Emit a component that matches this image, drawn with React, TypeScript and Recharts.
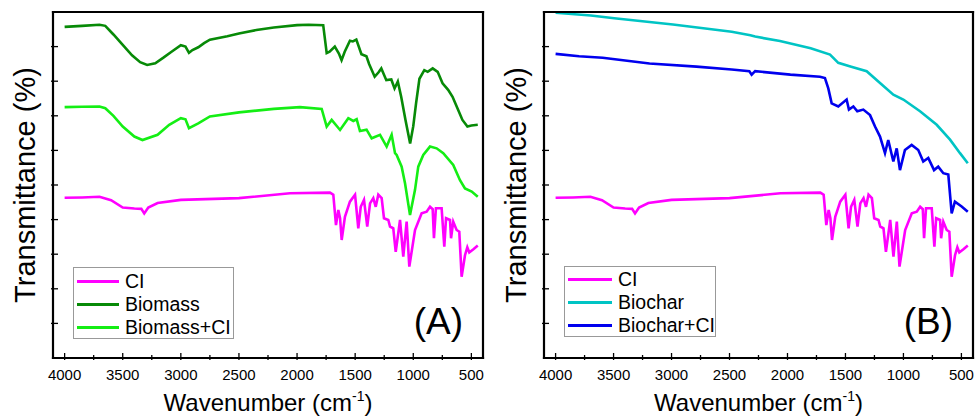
import { Line, LineChart, XAxis, YAxis } from "recharts";

// wavenumber (cm-1), transmittance (offset, arbitrary units 0-10)
const ci: [number, number][] = [
  [4000, 4.63], [3850, 4.64], [3700, 4.66], [3600, 4.56], [3500, 4.35], [3400, 4.32], [3340, 4.31], [3315, 4.18],
  [3280, 4.35], [3200, 4.48], [3000, 4.57], [2500, 4.62], [2061, 4.76], [1717, 4.78], [1688, 4.72], [1665, 3.84],
  [1645, 4.28], [1630, 4.04], [1616, 3.41], [1588, 4.08], [1545, 4.52], [1501, 4.72], [1473, 3.75], [1452, 4.37],
  [1424, 4.57], [1396, 3.8], [1372, 4.47], [1344, 4.62], [1323, 4.37], [1301, 4.72], [1272, 4.62], [1252, 4.04],
  [1215, 3.99], [1200, 3.8], [1172, 3.75], [1151, 3.07], [1129, 3.61], [1114, 3.99], [1086, 2.93], [1057, 3.94],
  [1034, 2.64], [985, 3.7], [928, 4.18], [885, 4.23], [856, 4.37], [833, 4.3], [822, 3.46], [805, 4.33],
  [756, 4.33], [733, 3.22], [718, 4.04], [684, 3.99], [675, 3.46], [656, 3.94], [627, 3.7], [604, 3.65],
  [584, 2.35], [555, 2.97], [535, 3.2], [518, 3.05], [480, 3.15], [445, 3.25],
];

const biomass: [number, number][] = [
  [4000, 9.57], [3850, 9.6], [3700, 9.63], [3650, 9.6], [3580, 9.35], [3500, 9.05], [3420, 8.75], [3350, 8.55],
  [3290, 8.47], [3220, 8.52], [3150, 8.68], [3080, 8.85], [3000, 9.04], [2960, 9.0], [2930, 8.82], [2900, 8.9],
  [2850, 8.98], [2800, 9.1], [2750, 9.2], [2600, 9.3], [2500, 9.38], [2350, 9.48], [2200, 9.55], [2000, 9.62],
  [1900, 9.63], [1775, 9.62], [1745, 8.81], [1720, 8.85], [1675, 9.0], [1640, 8.8], [1617, 8.61], [1590, 8.85],
  [1545, 9.17], [1520, 9.15], [1490, 9.2], [1446, 8.78], [1403, 8.72], [1380, 8.5], [1332, 8.13], [1300, 8.25],
  [1275, 8.37], [1232, 8.03], [1189, 8.05], [1161, 7.79], [1133, 7.99], [1104, 7.55], [1067, 6.88], [1027, 6.2],
  [1000, 6.7], [976, 7.36], [947, 8.07], [905, 8.32], [876, 8.27], [833, 8.37], [790, 8.27], [748, 7.94],
  [700, 7.75], [662, 7.55], [619, 7.21], [577, 6.88], [534, 6.69], [500, 6.72], [445, 6.74],
];

const biomassCi: [number, number][] = [
  [4000, 7.25], [3850, 7.26], [3700, 7.27], [3650, 7.22], [3580, 7.0], [3500, 6.69], [3400, 6.4], [3330, 6.3],
  [3200, 6.45], [3100, 6.74], [3000, 6.93], [2960, 6.9], [2930, 6.64], [2850, 6.78], [2750, 6.98], [2500, 7.1],
  [2200, 7.2], [1975, 7.25], [1788, 7.2], [1745, 6.69], [1702, 6.88], [1630, 6.59], [1559, 6.93], [1516, 6.85],
  [1487, 6.9], [1459, 6.56], [1402, 6.6], [1358, 6.35], [1286, 6.45], [1229, 6.11], [1186, 6.45], [1157, 5.92],
  [1143, 5.87], [1100, 5.53], [1071, 5.05], [1028, 4.13], [985, 4.86], [957, 5.53], [914, 5.87], [856, 6.11],
  [799, 6.06], [742, 5.92], [656, 5.58], [598, 5.14], [555, 4.9], [497, 4.81], [445, 4.66],
];

const biochar: [number, number][] = [
  [4000, 9.98], [3696, 9.9], [3494, 9.82], [2988, 9.64], [2481, 9.43], [2320, 9.33], [2279, 9.29], [2065, 9.16],
  [1800, 8.95], [1633, 8.77], [1562, 8.53], [1450, 8.42], [1317, 8.29], [1202, 7.95], [1087, 7.61], [1001, 7.47],
  [857, 7.13], [713, 6.74], [598, 6.31], [512, 5.92], [445, 5.63],
];

const biocharCi: [number, number][] = [
  [4000, 8.79], [3797, 8.72], [3594, 8.68], [3190, 8.51], [2785, 8.42], [2481, 8.34], [2329, 8.29], [2309, 8.19],
  [2279, 8.29], [1975, 8.19], [1720, 8.13], [1677, 8.09], [1648, 7.79], [1619, 7.36], [1562, 7.27], [1490, 7.47],
  [1470, 7.18], [1432, 7.27], [1398, 7.13], [1346, 7.18], [1288, 7.02], [1245, 6.69], [1202, 6.4], [1159, 5.92],
  [1131, 6.3], [1087, 5.68], [1058, 6.06], [1030, 5.43], [987, 6.01], [929, 6.16], [872, 6.01], [829, 5.68],
  [786, 5.78], [736, 5.43], [700, 5.53], [656, 5.34], [613, 5.3], [584, 4.18], [556, 4.52], [498, 4.38], [445, 4.23],
];

const xTicks = [4000, 3750, 3500, 3250, 3000, 2750, 2500, 2250, 2000, 1750, 1500, 1250, 1000, 750, 500];
const yTicks = [1, 2, 3, 4, 5, 6, 7, 8, 9];

const toRows = (d: [number, number][]) => d.map(([x, y]) => ({ x, y }));

const font = '"Liberation Sans", Arial, sans-serif';

const BottomTick = ({ x, y, payload }: any) => {
  const major = payload.value % 500 === 0;
  return (
    <g>
      <line x1={x} x2={x} y1={y} y2={y - (major ? 7 : 5)} stroke="#000" strokeWidth={1.3} />
      {major && (
        <text x={x} y={y + 20} textAnchor="middle" fontSize={15} fontFamily={font} fill="#000">
          {payload.value}
        </text>
      )}
    </g>
  );
};

const TopTick = ({ x, y, payload }: any) => (
  <line x1={x} x2={x} y1={y} y2={y + (payload.value % 500 === 0 ? 7 : 5)} stroke="#000" strokeWidth={1.3} />
);

const LeftTick = ({ x, y }: any) => <line x1={x} x2={x + 7} y1={y} y2={y} stroke="#000" strokeWidth={1.3} />;
const RightTick = ({ x, y }: any) => <line x1={x} x2={x - 7} y1={y} y2={y} stroke="#000" strokeWidth={1.3} />;

const frame = { stroke: "#000", strokeWidth: 2.2, strokeLinecap: "square" as const };

type Series = { name: string; color: string; data: [number, number][] };

function Panel({ series, left, width, margin, tag, legend }: {
  series: Series[];
  left: number;
  width: number;
  margin: { top: number; right: number; bottom: number; left: number };
  tag: string;
  legend: { left: number; top: number; w: number; h: number; lineW: number; rows: number[] };
}) {
  const plotLeft = left + margin.left + 1;
  const plotRight = left + width - margin.right - 1;
  const cx = (plotLeft + plotRight) / 2;
  return (
    <>
      <div style={{ position: "absolute", left, top: 0 }}>
        <LineChart width={width} height={417} margin={margin}>
          <XAxis
            dataKey="x"
            type="number"
            domain={[400, 4100]}
            reversed
            allowDataOverflow
            ticks={xTicks}
            interval={0}
            height={1}
            tickSize={0}
            tickLine={false}
            axisLine={frame}
            tick={<BottomTick />}
          />
          <XAxis
            xAxisId="top"
            orientation="top"
            type="number"
            domain={[400, 4100]}
            reversed
            allowDataOverflow
            ticks={xTicks}
            interval={0}
            height={1}
            tickSize={0}
            tickLine={false}
            axisLine={frame}
            tick={<TopTick />}
          />
          <YAxis domain={[0, 10]} ticks={yTicks} interval={0} width={1} tickSize={0} tickLine={false} axisLine={frame} tick={<LeftTick />} />
          <YAxis yAxisId="r" orientation="right" domain={[0, 10]} ticks={yTicks} interval={0} width={1} tickSize={0} tickLine={false} axisLine={frame} tick={<RightTick />} />
          {series.map((s) => (
            <Line
              key={s.name}
              data={toRows(s.data)}
              dataKey="y"
              name={s.name}
              type="linear"
              stroke={s.color}
              strokeWidth={2.6}
              dot={false}
              isAnimationActive={false}
            />
          ))}
        </LineChart>
      </div>
      <div
        style={{
          position: "absolute", left: plotLeft - 28 - 160, top: 185 - 18, width: 320, height: 36, lineHeight: "36px",
          textAlign: "center", fontSize: 29, fontFamily: font, transform: "rotate(-90deg)", color: "#000",
        }}
      >
        Transmittance (%)
      </div>
      <div
        style={{
          position: "absolute", left: cx - 160, top: 388, width: 320, height: 30, lineHeight: "30px",
          textAlign: "center", fontSize: 24, fontFamily: font, color: "#000", whiteSpace: "nowrap",
        }}
      >
        Wavenumber (cm<span style={{ fontSize: 14, position: "relative", top: -10 }}>-1</span>)
      </div>
      <div
        style={{
          position: "absolute", left: plotRight - 90, top: 300, width: 70, height: 44, lineHeight: "44px",
          textAlign: "right", fontSize: 37, fontFamily: font, color: "#000",
        }}
      >
        {tag}
      </div>
      <div
        style={{
          position: "absolute", left: legend.left, top: legend.top, width: legend.w, height: legend.h,
          border: "1px solid #999", boxSizing: "border-box", background: "#fff",
        }}
      >
        {series.map((s, i) => (
          <div key={s.name} style={{ position: "absolute", left: 3, top: legend.rows[i] - 12, height: 24, display: "flex", alignItems: "center" }}>
            <div style={{ width: legend.lineW, height: 3, background: s.color }} />
            <span style={{ marginLeft: 6, fontSize: 19.5, fontFamily: font, color: "#000", whiteSpace: "nowrap" }}>{s.name}</span>
          </div>
        ))}
      </div>
    </>
  );
}

export default function App() {
  const panelA: Series[] = [
    { name: "CI", color: "#FF00FF", data: ci },
    { name: "Biomass", color: "#078A07", data: biomass },
    { name: "Biomass+CI", color: "#14EE14", data: biomassCi },
  ];
  const panelB: Series[] = [
    { name: "CI", color: "#FF00FF", data: ci },
    { name: "Biochar", color: "#00C4C4", data: biochar },
    { name: "Biochar+CI", color: "#0000EE", data: biocharCi },
  ];
  return (
    <div style={{ position: "absolute", left: 0, top: 0, width: 975, height: 417, background: "#fff", overflow: "hidden" }}>
      <Panel
        series={panelA}
        left={0}
        width={490}
        margin={{ top: 11, right: 6, bottom: 58, left: 52 }}
        tag="(A)"
        legend={{ left: 73, top: 267, w: 161, h: 72, lineW: 42, rows: [13, 36, 59] }}
      />
      <Panel
        series={panelB}
        left={490}
        width={485}
        margin={{ top: 11, right: 1, bottom: 58, left: 53 }}
        tag="(B)"
        legend={{ left: 564, top: 266, w: 152, h: 71, lineW: 44, rows: [12, 35, 58] }}
      />
    </div>
  );
}
